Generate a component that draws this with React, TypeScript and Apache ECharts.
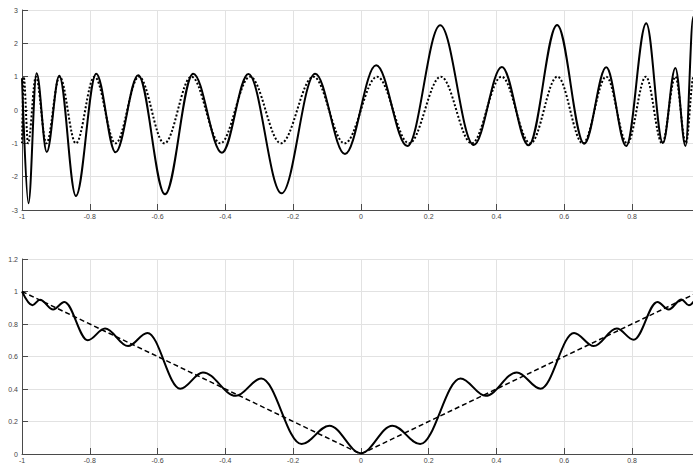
import React, { useEffect, useRef } from "react";
import * as echarts from "echarts";

// x-axis ticks shared by both panels
const xTicks = [-1, -0.8, -0.6, -0.4, -0.2, 0, 0.2, 0.4, 0.6, 0.8];

// Top panel: solid curve (local extrema)
const topSolid: [number, number][] = [
  [-1, 0.95],
  [-0.981, -2.8],
  [-0.957, 1.1],
  [-0.927, -1.26],
  [-0.89, 1.03],
  [-0.841, -2.58],
  [-0.781, 1.09],
  [-0.724, -1.27],
  [-0.657, 1.04],
  [-0.578, -2.53],
  [-0.495, 1.09],
  [-0.41, -1.28],
  [-0.332, 1.08],
  [-0.234, -2.5],
  [-0.135, 1.09],
  [-0.047, -1.32],
  [0.045, 1.34],
  [0.137, -1.08],
  [0.234, 2.54],
  [0.333, -1.05],
  [0.416, 1.29],
  [0.495, -1.06],
  [0.579, 2.55],
  [0.659, -1.01],
  [0.724, 1.28],
  [0.783, -1.08],
  [0.842, 2.6],
  [0.891, -0.99],
  [0.928, 1.26],
  [0.958, -1.08],
  [0.981, 2.8],
  [1.0, 1.0],
];

// Top panel: dotted curve (extrema)
const topDotted: [number, number][] = [
  [-1, -1],
  [-0.995, 1],
  [-0.982, -1],
  [-0.959, 1],
  [-0.928, -1],
  [-0.889, 1],
  [-0.841, -1],
  [-0.786, 1],
  [-0.724, -1],
  [-0.655, 1],
  [-0.58, -1],
  [-0.5, 1],
  [-0.415, -1],
  [-0.327, 1],
  [-0.236, -1],
  [-0.14, 1],
  [-0.048, -1],
  [0.048, 1],
  [0.142, -1],
  [0.236, 1],
  [0.327, -1],
  [0.415, 1],
  [0.5, -1],
  [0.58, 1],
  [0.655, -1],
  [0.724, 1],
  [0.786, -1],
  [0.841, 1],
  [0.889, -1],
  [0.928, 1],
  [0.959, -1],
  [0.982, 1],
  [0.995, -1],
  [1, 1],
];

// Bottom panel: solid wiggly curve (local extrema)
const bottomSolid: [number, number][] = [
  [-1, 1.0],
  [-0.969, 0.915],
  [-0.947, 0.95],
  [-0.908, 0.889],
  [-0.875, 0.936],
  [-0.806, 0.7],
  [-0.755, 0.772],
  [-0.687, 0.664],
  [-0.63, 0.745],
  [-0.533, 0.402],
  [-0.466, 0.502],
  [-0.369, 0.358],
  [-0.294, 0.465],
  [-0.175, 0.061],
  [-0.093, 0.174],
  [0, 0.005],
  [0.093, 0.174],
  [0.175, 0.061],
  [0.294, 0.465],
  [0.368, 0.358],
  [0.46, 0.502],
  [0.53, 0.402],
  [0.629, 0.745],
  [0.687, 0.664],
  [0.755, 0.772],
  [0.805, 0.703],
  [0.875, 0.936],
  [0.908, 0.889],
  [0.946, 0.951],
  [0.968, 0.915],
  [1.0, 1.0],
];

// Bottom panel: dashed reference line
const bottomDashed: [number, number][] = [
  [-1, 1],
  [0, 0],
  [1, 1],
];

const AXIS_COLOR = "#4a4a4a";
const LABEL_COLOR = "#444";
const GRID_COLOR = "#e2e2e2";
const FONT = "Liberation Sans, Arial, sans-serif";

function xAxis(gridIndex: number) {
  return {
    type: "value" as const,
    gridIndex,
    min: -1,
    max: 0.98,
    interval: 0.2,
    axisLine: { show: true, onZero: false, lineStyle: { color: AXIS_COLOR, width: 1 } },
    axisTick: { show: true, inside: true, length: 6, lineStyle: { color: AXIS_COLOR } },
    axisLabel: {
      fontSize: 7,
      color: LABEL_COLOR,
      margin: 3,
      fontFamily: FONT,
      showMaxLabel: false,
      formatter: (v: number) => {
        const r = Math.round(v * 10) / 10;
        return xTicks.indexOf(r) >= 0 ? String(r) : "";
      },
    },
    splitLine: { show: true, lineStyle: { color: GRID_COLOR, width: 1 } },
  };
}

function yAxis(gridIndex: number, min: number, max: number, interval: number) {
  return {
    type: "value" as const,
    gridIndex,
    min,
    max,
    interval,
    axisLine: { show: true, onZero: false, lineStyle: { color: AXIS_COLOR, width: 1 } },
    axisTick: { show: true, inside: true, length: 6, lineStyle: { color: AXIS_COLOR } },
    axisLabel: { fontSize: 7, color: LABEL_COLOR, margin: 4, fontFamily: FONT },
    splitLine: { show: true, lineStyle: { color: GRID_COLOR, width: 1 } },
  };
}

export default function App() {
  const ref = useRef<HTMLDivElement>(null);
  useEffect(() => {
    if (!ref.current) return;
    const chart = echarts.init(ref.current, undefined, { renderer: "svg" });
    chart.setOption({
      animation: false,
      backgroundColor: "#ffffff",
      grid: [
        { left: 22, top: 10, width: 671, height: 200 },
        { left: 22, top: 259, width: 671, height: 195 },
      ],
      xAxis: [xAxis(0), xAxis(1)],
      yAxis: [yAxis(0, -3, 3, 1), yAxis(1, 0, 1.2, 0.2)],
      series: [
        {
          type: "line",
          xAxisIndex: 0,
          yAxisIndex: 0,
          data: topSolid,
          showSymbol: false,
          symbol: "none",
          smooth: 0.36,
          smoothMonotone: "x",
          clip: true,
          lineStyle: { color: "#000", width: 2 },
        },
        {
          type: "line",
          xAxisIndex: 0,
          yAxisIndex: 0,
          data: topDotted,
          showSymbol: false,
          symbol: "none",
          smooth: 0.36,
          smoothMonotone: "x",
          clip: true,
          lineStyle: { color: "#000", width: 2, type: [2, 2] },
        },
        {
          type: "line",
          xAxisIndex: 1,
          yAxisIndex: 1,
          data: bottomSolid,
          showSymbol: false,
          symbol: "none",
          smooth: 0.36,
          smoothMonotone: "x",
          clip: true,
          lineStyle: { color: "#000", width: 2 },
        },
        {
          type: "line",
          xAxisIndex: 1,
          yAxisIndex: 1,
          data: bottomDashed,
          showSymbol: false,
          symbol: "none",
          clip: true,
          lineStyle: { color: "#000", width: 1.5, type: [5, 3] },
        },
      ],
    });
    return () => chart.dispose();
  }, []);
  return (
    <div
      ref={ref}
      style={{ position: "fixed", left: 0, top: 0, width: 693, height: 465, background: "#fff" }}
    />
  );
}
